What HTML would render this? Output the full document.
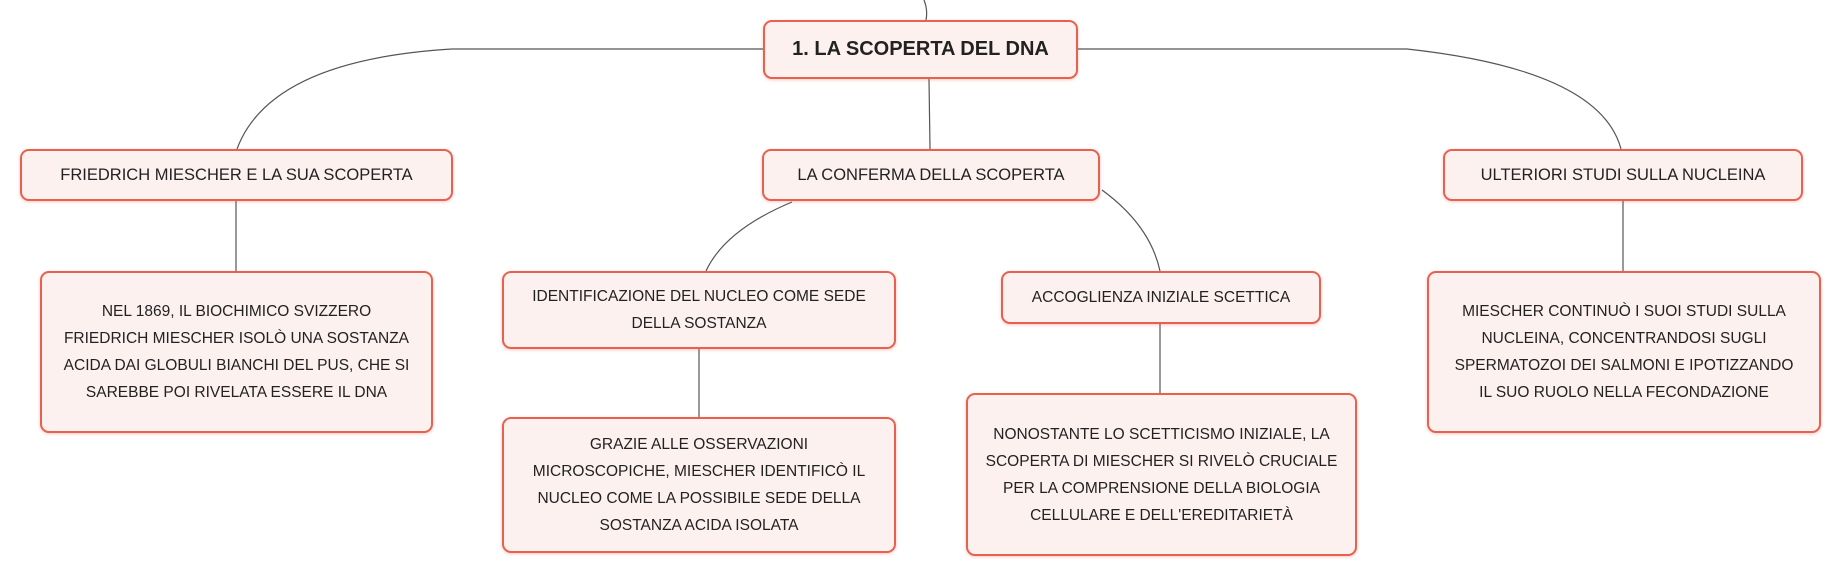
<!DOCTYPE html>
<html><head><meta charset="utf-8"><style>
body{margin:0;width:1841px;height:577px;background:#fff;position:relative;overflow:hidden;font-family:"Liberation Sans",sans-serif;}
.n{position:absolute;box-sizing:border-box;border:2.5px solid #e8604f;border-radius:9px;background:#fdf1ef;display:flex;align-items:center;justify-content:center;text-align:center;color:#222;font-size:15.5px;line-height:27px;box-shadow:0 1px 3px rgba(232,96,79,.35);padding:0 4px;white-space:nowrap;}
svg{position:absolute;left:0;top:0}
</style></head><body>
<svg width="1841" height="577" fill="none" stroke="#555" stroke-width="1.2">
<path d="M924 0 Q928 10 926 20"/>
<path d="M763 49 L452 49 Q270 60 237 149"/>
<path d="M1078 49 L1407 49 Q1600 70 1621 149"/>
<path d="M929 79 L930 149"/>
<path d="M792 202 Q725 230 706 271"/>
<path d="M1102 190 Q1150 225 1160 271"/>
<path d="M236 201 L236 271"/>
<path d="M699 349 L699 417"/>
<path d="M1160 324 L1160 393"/>
<path d="M1623 201 L1623 271"/>
</svg>
<div class="n" style="left:763px;top:20px;width:315px;height:59px;font-weight:bold;font-size:20px;">1. LA SCOPERTA DEL DNA</div>
<div class="n" style="left:20px;top:149px;width:433px;height:52px;font-size:16.5px;">FRIEDRICH MIESCHER E LA SUA SCOPERTA</div>
<div class="n" style="left:762px;top:149px;width:338px;height:52px;font-size:16.5px;">LA CONFERMA DELLA SCOPERTA</div>
<div class="n" style="left:1443px;top:149px;width:360px;height:52px;font-size:16.5px;">ULTERIORI STUDI SULLA NUCLEINA</div>
<div class="n" style="left:40px;top:271px;width:393px;height:162px;">NEL 1869, IL BIOCHIMICO SVIZZERO<br>FRIEDRICH MIESCHER ISOLÒ UNA SOSTANZA<br>ACIDA DAI GLOBULI BIANCHI DEL PUS, CHE SI<br>SAREBBE POI RIVELATA ESSERE IL DNA</div>
<div class="n" style="left:502px;top:271px;width:394px;height:78px;">IDENTIFICAZIONE DEL NUCLEO COME SEDE<br>DELLA SOSTANZA</div>
<div class="n" style="left:1001px;top:271px;width:320px;height:53px;">ACCOGLIENZA INIZIALE SCETTICA</div>
<div class="n" style="left:1427px;top:271px;width:394px;height:162px;">MIESCHER CONTINUÒ I SUOI STUDI SULLA<br>NUCLEINA, CONCENTRANDOSI SUGLI<br>SPERMATOZOI DEI SALMONI E IPOTIZZANDO<br>IL SUO RUOLO NELLA FECONDAZIONE</div>
<div class="n" style="left:502px;top:417px;width:394px;height:136px;">GRAZIE ALLE OSSERVAZIONI<br>MICROSCOPICHE, MIESCHER IDENTIFICÒ IL<br>NUCLEO COME LA POSSIBILE SEDE DELLA<br>SOSTANZA ACIDA ISOLATA</div>
<div class="n" style="left:966px;top:393px;width:391px;height:163px;">NONOSTANTE LO SCETTICISMO INIZIALE, LA<br>SCOPERTA DI MIESCHER SI RIVELÒ CRUCIALE<br>PER LA COMPRENSIONE DELLA BIOLOGIA<br>CELLULARE E DELL'EREDITARIETÀ</div>
</body></html>
